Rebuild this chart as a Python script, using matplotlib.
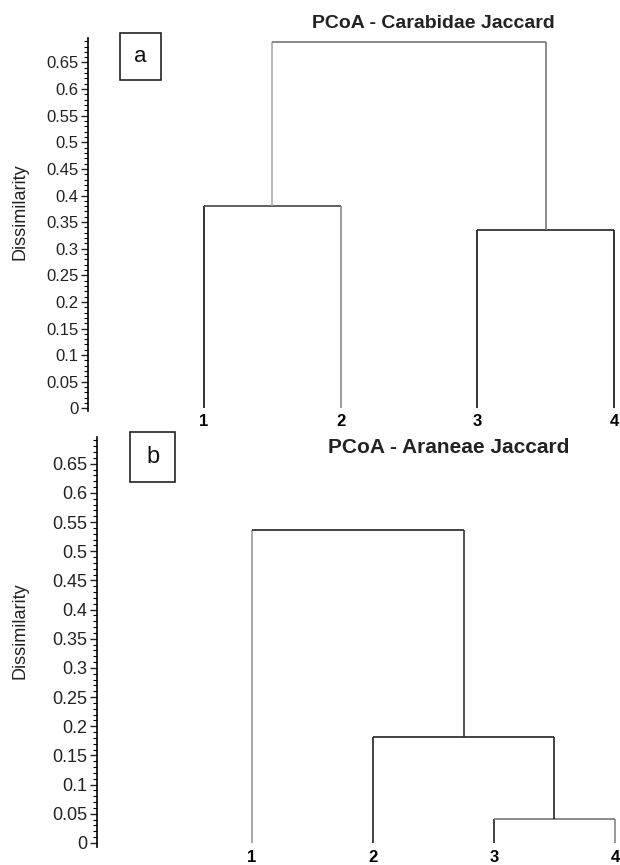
import matplotlib
matplotlib.use("Agg")
import matplotlib.pyplot as plt
from matplotlib.ticker import MultipleLocator, FuncFormatter

plt.rcParams['font.family'] = ['Liberation Sans', 'DejaVu Sans']

# ---- data ----
leaf_labels = ['1', '2', '3', '4']

# panel a: PCoA - Carabidae Jaccard  (merges: (1,2), (3,4), root)
a_title = "PCoA - Carabidae Jaccard"
a_merges = [(0, 1), (2, 3), ('m0', 'm1')]
a_heights = [0.38, 0.335, 0.688]
a_colors = [  # (left leg, horizontal, right leg)
    ('#111111', '#444444', '#8a8a8a'),
    ('#111111', '#222222', '#111111'),
    ('#aaaaaa', '#777777', '#777777'),
]

# panel b: PCoA - Araneae Jaccard  (merges: (3,4), (2,(3,4)), root)
b_title = "PCoA - Araneae Jaccard"
b_merges = [(2, 3), (1, 'm0'), (0, 'm1')]
b_heights = [0.041, 0.182, 0.537]
b_colors = [
    ('#222222', '#777777', '#888888'),
    ('#222222', '#222222', '#222222'),
    ('#999999', '#222222', '#333333'),
]

yticks = [0, 0.05, 0.1, 0.15, 0.2, 0.25, 0.3, 0.35, 0.4, 0.45, 0.5, 0.55, 0.6, 0.65]


def draw_dendro(ax, merges, heights, colors):
    pos = {i: (float(i + 1), 0.0) for i in range(len(leaf_labels))}
    for k, ((l, r), h, c) in enumerate(zip(merges, heights, colors)):
        xl, yl = pos[l]
        xr, yr = pos[r]
        ax.plot([xl, xl], [yl, h], color=c[0], lw=1.2, solid_capstyle='butt')
        ax.plot([xl, xr], [h, h], color=c[1], lw=1.2, solid_capstyle='butt')
        ax.plot([xr, xr], [yr, h], color=c[2], lw=1.2, solid_capstyle='butt')
        pos['m%d' % k] = ((xl + xr) / 2.0, h)


def fmt(v, p):
    return ('%.2f' % v).rstrip('0').rstrip('.')


def style_axis(ax, ylim, labelsize):
    ax.set_ylim(*ylim)
    for s in ['top', 'right', 'bottom']:
        ax.spines[s].set_visible(False)
    ax.spines['left'].set_linewidth(1.2)
    ax.set_yticks(yticks)
    ax.yaxis.set_major_formatter(FuncFormatter(fmt))
    ax.yaxis.set_minor_locator(MultipleLocator(0.01))
    ax.tick_params(axis='y', which='major', length=5, width=1, pad=2,
                   labelsize=labelsize, colors='#222222')
    ax.tick_params(axis='y', which='minor', length=3, width=0.8)
    ax.set_xticks(range(1, len(leaf_labels) + 1))
    ax.set_xticklabels(leaf_labels, fontweight='bold', fontsize=12)
    ax.tick_params(axis='x', length=0, pad=2)


W, H = 620, 865
fig = plt.figure(figsize=(W / 100, H / 100), dpi=100)

# panel a
ax1 = fig.add_axes([88 / W, 1 - 411 / H, (W - 88) / W, (411 - 38) / H])
draw_dendro(ax1, a_merges, a_heights, a_colors)
style_axis(ax1, (-0.005, 0.696), 12)
spa = 136.7
xa_left = 1 - (204 - 88) / spa
ax1.set_xlim(xa_left, xa_left + (W - 88) / spa)
fig.text(20 / W, 1 - 212 / H, 'Dissimilarity', rotation=90, ha='center', va='center',
         fontsize=13, color='#222222')
fig.text(433 / W, 1 - 23 / H, a_title, ha='center', va='center', fontsize=14,
         fontweight='bold', color='#222222')
fig.patches.append(plt.Rectangle((120 / W, 1 - 80 / H), 41 / W, 47 / H, transform=fig.transFigure,
                                 fill=False, edgecolor='#222222', lw=1.2))
fig.text(140.5 / W, 1 - 56 / H, 'a', ha='center', va='center', fontsize=16, color='#111111')

# panel b
ax2 = fig.add_axes([97 / W, 1 - 847 / H, (W - 97) / W, (847 - 437) / H])
draw_dendro(ax2, b_merges, b_heights, b_colors)
style_axis(ax2, (-0.007, 0.696), 13)
sp = 121.0
x_left = 1 - (252 - 97) / sp
ax2.set_xlim(x_left, x_left + (W - 97) / sp)
fig.text(20 / W, 1 - 631 / H, 'Dissimilarity', rotation=90, ha='center', va='center',
         fontsize=13, color='#222222')
fig.text(449 / W, 1 - 448 / H, b_title, ha='center', va='center', fontsize=15,
         fontweight='bold', color='#222222')
fig.patches.append(plt.Rectangle((130 / W, 1 - 482 / H), 45 / W, 50 / H, transform=fig.transFigure,
                                 fill=False, edgecolor='#222222', lw=1.2))
fig.text(152.5 / W, 1 - 457 / H, 'b', ha='center', va='center', fontsize=17, color='#111111')

fig.savefig('out.png', dpi=100)
